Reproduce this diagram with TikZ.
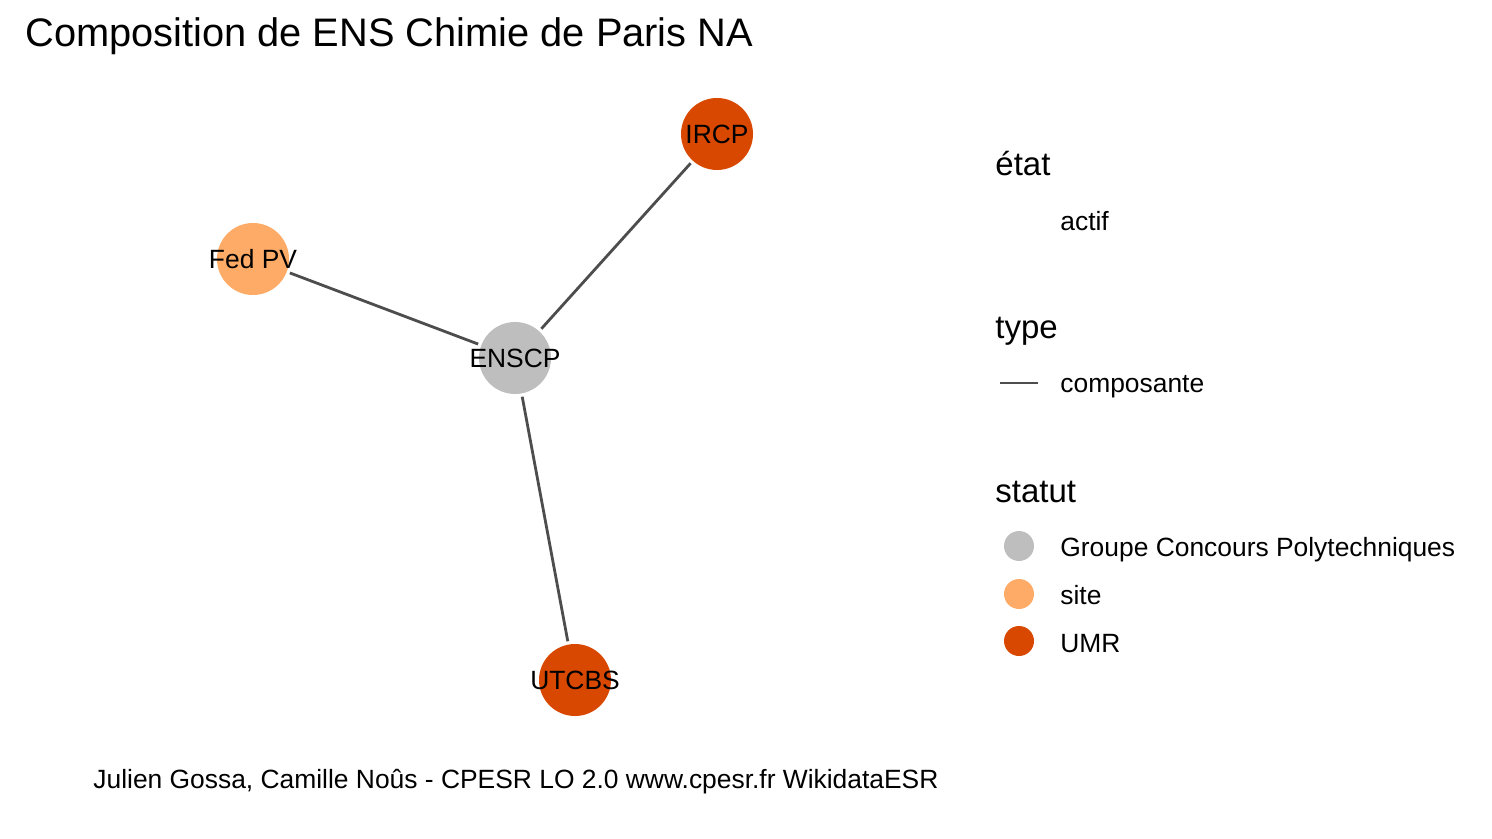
\documentclass[tikz,border=0pt]{standalone}
\usepackage{fontspec}
\setmainfont{Liberation Sans}
\usetikzlibrary{positioning}

\definecolor{gcpgrey}{HTML}{BEBEBE}
\definecolor{siteorange}{HTML}{FDAB67}
\definecolor{umrorange}{HTML}{D94801}
\definecolor{edgegrey}{HTML}{4D4D4D}

\begin{document}
\begin{tikzpicture}[x=0.5pt, y=-0.5pt, every node/.style={font=\fontsize{13.2}{15}\selectfont, inner sep=0pt}]
% styles
\tikzstyle{gcp}=[circle,fill=gcpgrey,minimum size=36pt]
\tikzstyle{site}=[circle,fill=siteorange,minimum size=36pt]
\tikzstyle{umr}=[circle,fill=umrorange,minimum size=36pt]
\tikzstyle{composante}=[draw=edgegrey,line width=1.4pt]
\tikzstyle{legtitle}=[anchor=base west,font=\fontsize{16.5}{19}\selectfont]
\tikzstyle{leglabel}=[anchor=base west]
\tikzstyle{legdot}=[circle,minimum size=15pt]

\useasboundingbox (0,0) rectangle (1492,839);

% title
\node[anchor=base west,font=\fontsize{19.9}{23}\selectfont] (title) at (25,47) {Composition de ENS Chimie de Paris NA};

% graph nodes
\node[gcp] (enscp) at (515,358) {};
\node[site] (fedpv) at (253,259) {};
\node[umr] (ircp) at (717,134) {};
\node[umr] (utcbs) at (575,680) {};

% edges
\foreach \n in {fedpv,ircp,utcbs}
  \draw[composante,shorten <=1.5pt,shorten >=1.5pt] (enscp) -- (\n);

% labels
\node at (enscp) {ENSCP};
\node at (fedpv) {Fed PV};
\node at (ircp) {IRCP};
\node at (utcbs) {UTCBS};

% legend: etat
\node[legtitle] (etat) at (995,176) {état};
\node[leglabel] (actif) at (1060,231) {actif};

% legend: type
\node[legtitle] (type) at (995,338) {type};
\coordinate (la) at (1000,383);
\coordinate (lb) at (1038,383);
\draw[composante] (la) -- (lb);
\node[leglabel] (comp) at (1060,393) {composante};

% legend: statut
\node[legtitle] (statut) at (995,502) {statut};
\node[legdot,fill=gcpgrey] (d1) at (1019,546) {};
\node[legdot,fill=siteorange] (d2) at (1019,594) {};
\node[legdot,fill=umrorange] (d3) at (1019,641) {};
\node[leglabel] (s1) at (1060,556) {Groupe Concours Polytechniques};
\node[leglabel] (s2) at (1060,604) {site};
\node[leglabel] (s3) at (1060,652) {UMR};

% caption
\node[anchor=base west] (caption) at (93,788) {Julien Gossa, Camille Noûs - CPESR LO 2.0 www.cpesr.fr WikidataESR};

\end{tikzpicture}
\end{document}
